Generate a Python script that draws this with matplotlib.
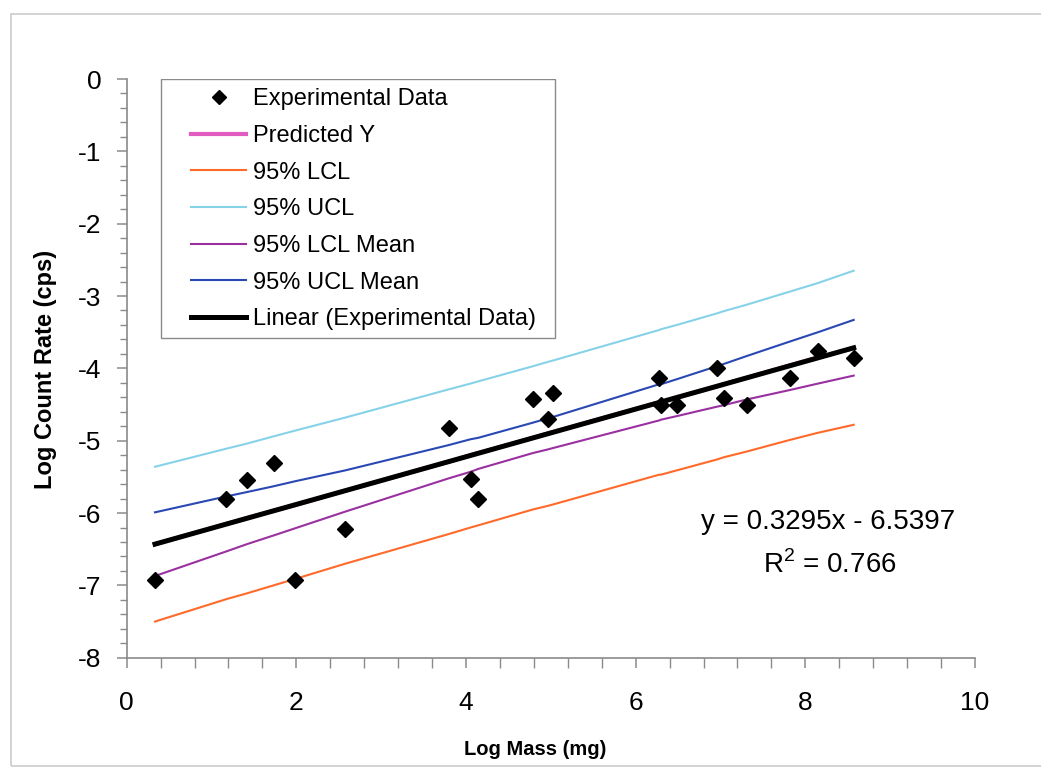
import matplotlib
matplotlib.use('Agg')
import matplotlib.pyplot as plt
from matplotlib.ticker import MultipleLocator
from matplotlib.patches import Rectangle

plt.rcParams['font.family'] = ['Liberation Sans', 'DejaVu Sans']
plt.rcParams['mathtext.fontset'] = 'custom'
plt.rcParams['mathtext.rm'] = 'Liberation Sans'
plt.rcParams['axes.unicode_minus'] = False

# measured points
log_mass = [0.334, 1.175, 1.417, 1.731, 1.987, 2.577, 3.797, 4.053, 4.144, 4.79, 4.966,
            5.03, 6.276, 6.296, 6.485, 6.957, 7.036, 7.308, 7.815, 8.15, 8.57]
log_rate = [-6.93, -5.81, -5.54, -5.31, -6.92, -6.22, -4.83, -5.53, -5.81, -4.42, -4.70,
            -4.34, -4.14, -4.50, -4.50, -4.00, -4.41, -4.50, -4.14, -3.76, -3.85]

# regression output at each mass
predicted_y = [-6.43, -6.15, -6.07, -5.97, -5.89, -5.69, -5.29, -5.20, -5.17, -4.96, -4.90,
               -4.88, -4.47, -4.47, -4.40, -4.25, -4.22, -4.13, -3.96, -3.85, -3.72]
lcl = [-7.50, -7.19, -7.11, -7.00, -6.91, -6.70, -6.29, -6.20, -6.17, -5.95, -5.90,
       -5.88, -5.47, -5.47, -5.41, -5.26, -5.23, -5.15, -4.99, -4.89, -4.78]
ucl = [-5.36, -5.11, -5.04, -4.94, -4.86, -4.68, -4.29, -4.21, -4.18, -3.97, -3.91,
       -3.89, -3.47, -3.46, -3.40, -3.24, -3.21, -3.12, -2.94, -2.82, -2.65]
lcl_mean = [-6.87, -6.53, -6.43, -6.31, -6.21, -5.98, -5.52, -5.43, -5.39, -5.17, -5.12,
            -5.10, -4.72, -4.71, -4.66, -4.53, -4.51, -4.43, -4.30, -4.21, -4.10]
ucl_mean = [-5.99, -5.77, -5.71, -5.63, -5.56, -5.41, -5.06, -4.98, -4.96, -4.75, -4.69,
            -4.67, -4.22, -4.22, -4.15, -3.97, -3.94, -3.83, -3.63, -3.50, -3.33]

slope = 0.3295
intercept = -6.5397
r_squared = 0.766

fig = plt.figure(figsize=(10.41, 7.70), dpi=100)
ax = fig.add_axes([0.1217, 0.1458, 0.8149, 0.7516])

h_pred, = ax.plot(log_mass, predicted_y, color='#E05CC0', lw=3, label='Predicted Y')
h_lcl, = ax.plot(log_mass, lcl, color='#FF6A2A', lw=1.5, label='95% LCL')
h_ucl, = ax.plot(log_mass, ucl, color='#86D2E8', lw=1.5, label='95% UCL')
h_lclm, = ax.plot(log_mass, lcl_mean, color='#9A30A0', lw=1.5, label='95% LCL Mean')
h_uclm, = ax.plot(log_mass, ucl_mean, color='#2A48B4', lw=1.5, label='95% UCL Mean')

# linear trendline over the data range
tx = [min(log_mass), max(log_mass)]
ty = [slope * x + intercept for x in tx]
h_trend, = ax.plot(tx, ty, color='black', lw=3.6, label='Linear (Experimental Data)')

h_data, = ax.plot(log_mass, log_rate, 'D', color='black', ms=8, ls='none',
                  zorder=5, label='Experimental Data')

ax.set_xlim(0, 10)
ax.set_ylim(-8, 0)
ax.xaxis.set_major_locator(MultipleLocator(2))
ax.xaxis.set_minor_locator(MultipleLocator(0.4))
ax.yaxis.set_major_locator(MultipleLocator(1))
ax.yaxis.set_minor_locator(MultipleLocator(0.2))

for s in ['top', 'right']:
    ax.spines[s].set_visible(False)
for s in ['left', 'bottom']:
    ax.spines[s].set_color('#8a8a8a')
    ax.spines[s].set_linewidth(1.2)

ax.tick_params(axis='both', which='both', direction='out', colors='#8a8a8a')
ax.tick_params(axis='y', which='major', length=7, width=1.1, labelsize=19, labelcolor='black', pad=11)
ax.tick_params(axis='y', which='minor', length=5, width=1.0)
ax.tick_params(axis='x', which='major', length=7, width=1.1, labelsize=19, labelcolor='black', pad=17)
ax.tick_params(axis='x', which='minor', length=7, width=1.0)

ax.set_xlabel('Log Mass (mg)', fontsize=14.5, fontweight='bold')
ax.set_ylabel('Log Count Rate (cps)', fontsize=17, fontweight='bold')
ax.xaxis.set_label_coords(0.481, -0.143)
ax.yaxis.set_label_coords(-0.082, 0.499)

# legend box drawn separately so the entries can sit further in
ax.add_patch(Rectangle((0.0404, 0.5525), 0.4645, 0.4475, transform=ax.transAxes,
                       facecolor='white', edgecolor='#8a8a8a', lw=1.0, zorder=6))
leg = ax.legend(handles=[h_data, h_pred, h_lcl, h_ucl, h_lclm, h_uclm, h_trend],
                loc='upper left', bbox_to_anchor=(0.0651, 1.0), frameon=False,
                fontsize=17, handlelength=2.33, handletextpad=0.3, labelspacing=0.62,
                borderpad=0.4, markerscale=0.9, borderaxespad=0)
leg.set_zorder(7)

fig.text(828 / 1041, 1 - 522 / 770, f'y = {slope}x - {abs(intercept)}',
         ha='center', va='center', fontsize=20)
fig.text(830 / 1041, 1 - 565 / 770, f'R$^2$ = {r_squared}',
         ha='center', va='center', fontsize=20)

# outer chart border
fig.patches.append(Rectangle((11 / 1041, 4 / 770), 1.0, 752 / 770, transform=fig.transFigure,
                             fill=False, edgecolor='#cccccc', lw=1.2))

fig.savefig('out.png', dpi=100)
